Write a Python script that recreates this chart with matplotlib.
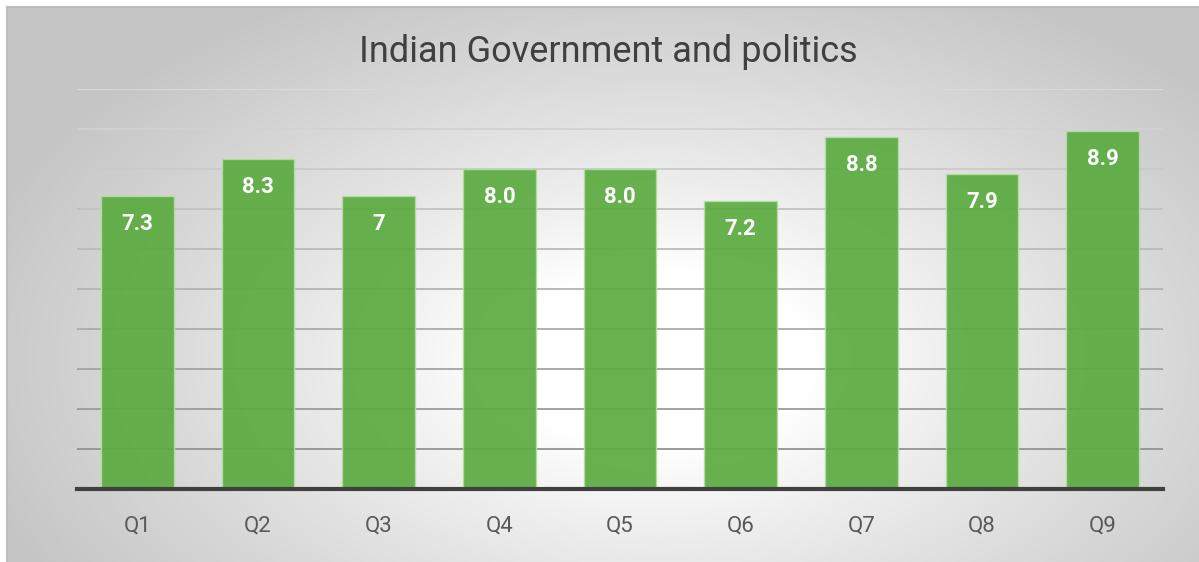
import numpy as np
import matplotlib
matplotlib.use("Agg")
import matplotlib.pyplot as plt
from matplotlib.colors import to_rgb

# ---- data ----
title = "Indian Government and politics"
categories = ["Q1", "Q2", "Q3", "Q4", "Q5", "Q6", "Q7", "Q8", "Q9"]
values = [7.33, 8.26, 7.32, 8.0, 8.0, 7.2, 8.81, 7.87, 8.95]
value_labels = ["7.3", "8.3", "7", "8.0", "8.0", "7.2", "8.8", "7.9", "8.9"]

W, H = 1199, 562
fig = plt.figure(figsize=(W / 100, H / 100), dpi=100)
fig.patch.set_facecolor("white")

# background radial gradient panel
bx0, by0 = 7 / W, 0.0
bw, bh = 1 - bx0, 1 - 7 / H
bg = fig.add_axes([bx0, by0, bw, bh])
ny, nx = 300, 600
yy, xx = np.mgrid[0:ny, 0:nx]
px = bx0 * W + xx / (nx - 1) * bw * W
py = 7 + yy / (ny - 1) * (H - 7)
cx, cy = 660, 360
d = np.sqrt(((px - cx) / 620) ** 2 + ((py - cy) / 360) ** 2)
t = np.clip((d - 0.25) / (1.15 - 0.25), 0, 1) ** 0.9
edge = 0.775
val = 1 - (1 - edge) * t
img = np.dstack([val, val, val])
bg.imshow(img, aspect="auto", extent=[0, 1, 1, 0], interpolation="bilinear")
bg.set_xlim(0, 1)
bg.set_ylim(1, 0)
bg.axis("off")
# frame line
fig.add_artist(plt.Line2D([bx0, bx0], [0, 1 - 7 / H], color="#bdbdbd", lw=1.5, transform=fig.transFigure))
fig.add_artist(plt.Line2D([bx0, 1], [1 - 7 / H, 1 - 7 / H], color="#bdbdbd", lw=1.5, transform=fig.transFigure))

# main axes
left, right = 77 / W, 1163 / W
bottom, top = 1 - 489 / H, 1 - 89 / H
ax = fig.add_axes([left, bottom, right - left, top - bottom])
ax.patch.set_alpha(0)
x = np.arange(len(categories))
ax.set_xlim(-0.5, len(categories) - 0.5)
ax.set_ylim(0, 10)

# gridlines with slight tone gradient (lighter at top)
c_top = np.array(to_rgb("#dadada"))
c_bot = np.array(to_rgb("#939393"))
for g in range(1, 11):
    f = (g - 1) / 9
    col = c_bot * (1 - f) + c_top * f
    ax.axhline(g, color=col, lw=1.3, zorder=1)

bars = ax.bar(x, values, width=0.6, color="#5aab3f", alpha=0.92,
              edgecolor="#b5dca4", linewidth=1.0, zorder=2)

for xi, v, lab in zip(x, values, value_labels):
    ax.annotate(lab, (xi, v), xytext=(0, -28), textcoords="offset pixels",
                ha="center", va="center", color="white", fontsize=16,
                fontweight="bold", family="Roboto", zorder=3)

ax.axhline(0, color="#404040", lw=3, zorder=4, clip_on=False)

for s in ax.spines.values():
    s.set_visible(False)
ax.set_yticks([])
ax.set_xticks(x)
ax.set_xticklabels(categories, fontsize=16, color="#595959", family="Roboto")
ax.tick_params(axis="x", length=0, pad=19)

fig.text(608 / W, 1 - 52 / H, title, ha="center", va="center",
         fontsize=26, color="#404040", family="Roboto")

fig.savefig("out.png", dpi=100)
